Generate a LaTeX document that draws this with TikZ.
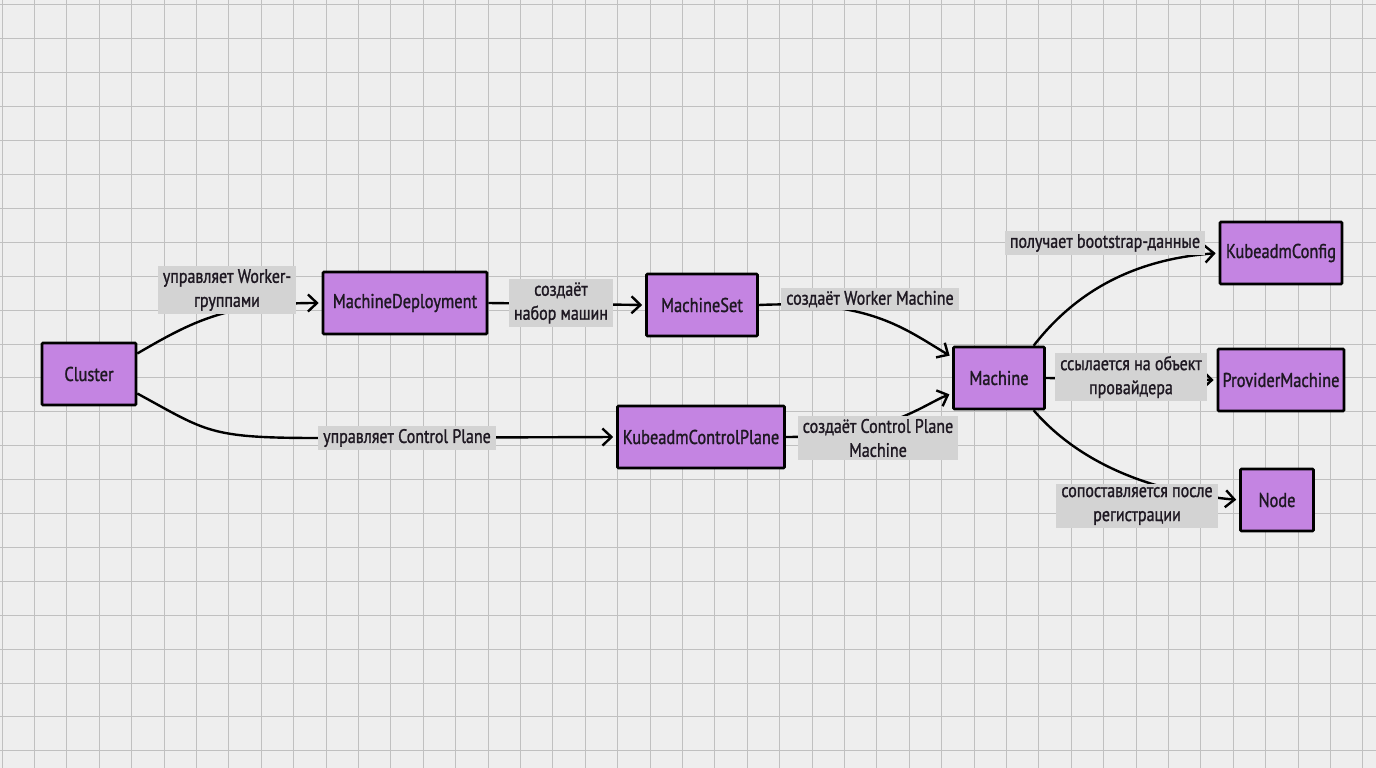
\documentclass[tikz,border=0pt]{standalone}
\usepackage{fontspec}
\setmainfont{PT Sans}[FakeStretch=0.82,FakeBold=1.2]
\usetikzlibrary{arrows.meta,calc}
\definecolor{bgc}{RGB}{238,238,238}
\definecolor{gridc}{RGB}{192,192,192}
\definecolor{boxc}{RGB}{196,132,226}
\definecolor{lblc}{RGB}{211,211,211}
\definecolor{txtc}{RGB}{30,24,34}
\pgfdeclarelayer{edges}
\pgfdeclarelayer{bg}
\pgfsetlayers{bg,edges,main}
\tikzset{
  obj/.style={draw=black, line width=2.6pt, fill=boxc, minimum height=62pt, inner sep=2pt,
    font=\fontsize{20}{24}\selectfont, text=txtc, rounded corners=1pt},
  lbl/.style={fill=lblc, inner xsep=5pt, inner ysep=3pt, align=center,
    font=\fontsize{19.5}{24}\selectfont, text=txtc},
  conn/.style={line width=2.4pt, draw=black, -{Straight Barb[length=9pt,width=17pt]}, shorten >=3pt},
  gridl/.style={draw=gridc, line width=1pt}
}
\begin{document}
\begin{tikzpicture}[x=1pt,y=-1pt]
\useasboundingbox (0,0) rectangle (1376,768);
\begin{pgfonlayer}{bg}
\fill[bgc] (0,0) rectangle (1376,768);
\foreach \i in {0,...,42} \draw[gridl] ({2+32.4*\i},0) -- ({2+32.4*\i},768);
\foreach \j in {0,...,22} \draw[gridl] (0,{5+33.9*\j}) -- (1376,{5+33.9*\j});
\end{pgfonlayer}

% objects
\node[obj, minimum width=94pt]  (cl)  at (89,374)   {Cluster};
\node[obj, minimum width=164pt] (md)  at (405,303)  {MachineDeployment};
\node[obj, minimum width=111pt] (ms)  at (702,305)  {MachineSet};
\node[obj, minimum width=167pt] (kcp) at (701,437)  {KubeadmControlPlane};
\node[obj, minimum width=91pt]  (m)   at (999,378)  {Machine};
\node[obj, minimum width=122pt] (kc)  at (1281,253) {KubeadmConfig};
\node[obj, minimum width=126pt] (pm)  at (1281,380) {ProviderMachine};
\node[obj, minimum width=73pt]  (nd)  at (1277,500) {Node};

% labels
\node[lbl] (l1) at (227,290)  {управляет Worker-\\группами};
\node[lbl] (l2) at (561,303)  {создаёт\\набор машин};
\node[lbl] (l3) at (407,438)  {управляет Control Plane};
\node[lbl] (l4) at (870,299)  {создаёт Worker Machine};
\node[lbl] (l5) at (878,438)  {создаёт Control Plane\\Machine};
\node[lbl] (l6) at (1105,243) {получает bootstrap-данные};
\node[lbl] (l7) at (1131,377) {ссылается на объект\\провайдера};
\node[lbl] (l8) at (1137,506) {сопоставляется после\\регистрации};

\begin{pgfonlayer}{edges}
\draw[conn] (cl.23) .. controls +(55,-32) and +(-95,0) .. (md.west);
\draw[conn] (cl.-22) .. controls +(70,38) and +(-110,0) .. (l3.west) -- (kcp.west);
\draw[conn] (md.east) -- (ms.west);
\draw[conn] (ms.east) .. controls +(110,-5) and +(-50,-30) .. (m.156);
\draw[conn] (kcp.east) .. controls +(100,0) and +(-30,12) .. (m.198);
\draw[conn] (m.43) .. controls +(45,-58) and +(-80,6) .. (kc.west);
\draw[conn] (m.east) -- (pm.west);
\draw[conn] (m.-43) .. controls +(45,52) and +(-90,-8) .. (nd.west);
\end{pgfonlayer}
\end{tikzpicture}
\end{document}
